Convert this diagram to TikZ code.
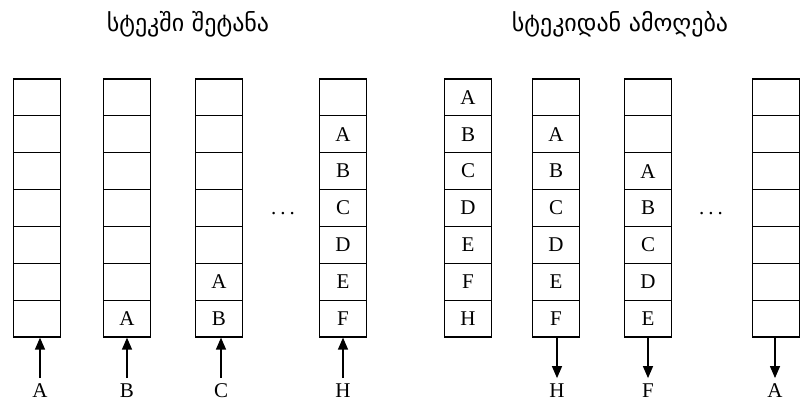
\documentclass[tikz,border=0pt]{standalone}
\usepackage{fontspec}
\setmainfont{Liberation Serif}
\newfontfamily\geofont{DejaVu Sans}
\usetikzlibrary{arrows.meta}
\tikzset{
  cell/.style = {rectangle, draw, line width=1.2pt, minimum width=47pt, minimum height=36.86pt, inner sep=0pt, font=\fontsize{21}{24}\selectfont},
  letter/.style = {inner sep=0pt, outer sep=6pt, font=\fontsize{21}{24}\selectfont},
  title/.style = {font=\geofont\fontsize{24}{28}\selectfont},
  arrow/.style = {-{Triangle[length=12pt, width=10pt]}, line width=1.3pt},
}

\begin{document}
\begin{tikzpicture}[x=1pt, y=-1pt]
    \useasboundingbox (0,0) rectangle (805,406);

    % Titles
    \node (push) [title] at (188,24) {სტეკში შეტანა};
    \node (pop) [title] at (620,24) {სტეკიდან ამოღება};

    % Stacks
    \foreach \s/\xc/\items in {
        1/37/{{},{},{},{},{},{},{}},
        2/127/{{},{},{},{},{},{},A},
        3/219/{{},{},{},{},{},A,B},
        4/343/{{},A,B,C,D,E,F},
        5/468/{A,B,C,D,E,F,H},
        6/556/{{},A,B,C,D,E,F},
        7/648/{{},{},A,B,C,D,E},
        8/776/{{},{},{},{},{},{},{}}}
    {
        \foreach \t [count=\r] in \items
            \node (s\s-\r) [cell] at (\xc, 79+36.86*\r-18.43) {\t};
    }

    % Dots
    \node (dots1) [letter] at (283,214) {.\hspace{4pt}.\hspace{4pt}.};
    \node (dots2) [letter] at (711,214) {.\hspace{4pt}.\hspace{4pt}.};

    % Pushed and popped elements
    \node (in1) [letter] at (40,391) {A};
    \node (in2) [letter] at (127,391) {B};
    \node (in3) [letter] at (221,391) {C};
    \node (in4) [letter] at (343,391) {H};
    \node (out6) [letter] at (557,391) {H};
    \node (out7) [letter] at (648,391) {F};
    \node (out8) [letter] at (775,391) {A};

    % Arrows
    \draw [arrow] (in1.north) -- (in1.north |- s1-7.south);
    \draw [arrow] (in2.north) -- (in2.north |- s2-7.south);
    \draw [arrow] (in3.north) -- (in3.north |- s3-7.south);
    \draw [arrow] (in4.north) -- (in4.north |- s4-7.south);

    \draw [arrow] (out6.north |- s6-7.south) -- (out6.north);
    \draw [arrow] (out7.north |- s7-7.south) -- (out7.north);
    \draw [arrow] (out8.north |- s8-7.south) -- (out8.north);

\end{tikzpicture}
\end{document}
